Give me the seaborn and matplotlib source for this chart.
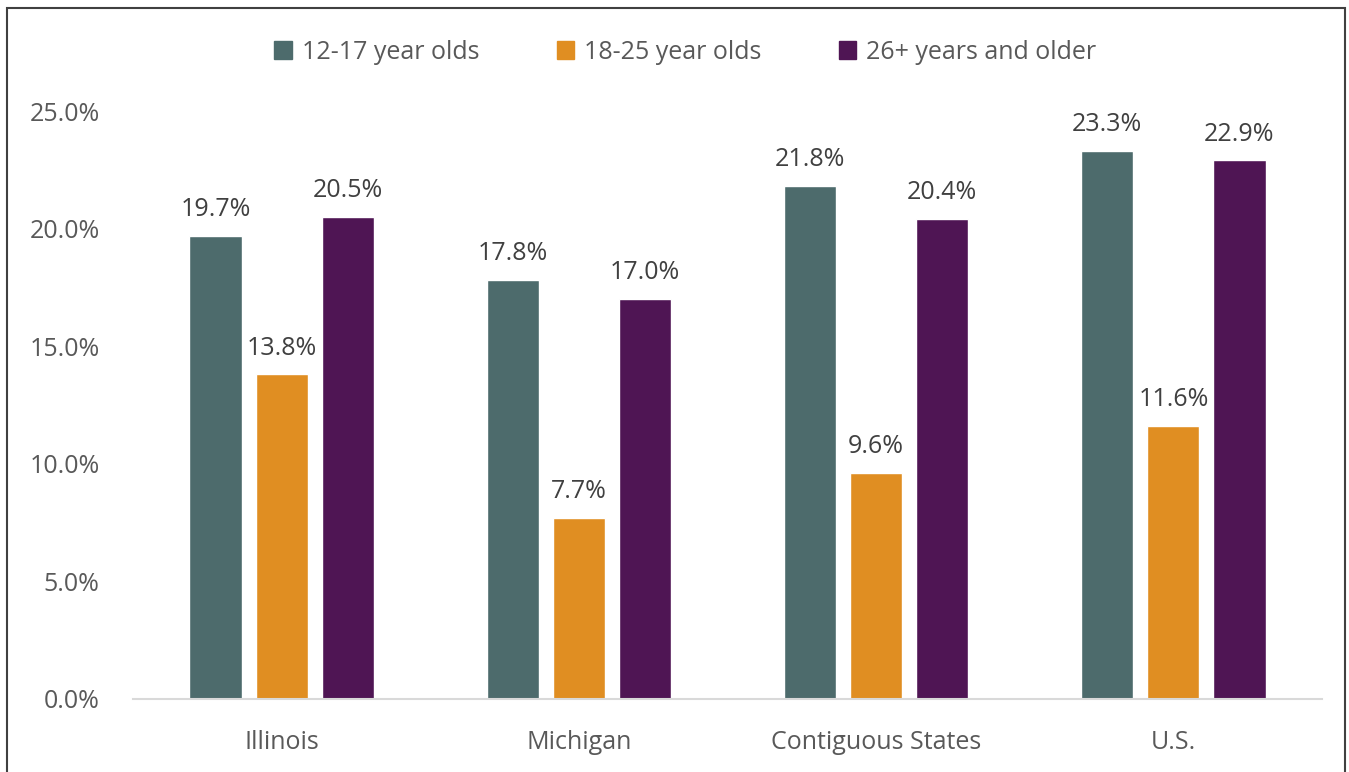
import pandas as pd
import matplotlib
matplotlib.use("Agg")
import matplotlib.pyplot as plt
import seaborn as sns
from matplotlib.ticker import PercentFormatter
from matplotlib.patches import Rectangle

# données du graphique
regions = ["Illinois", "Michigan", "Contiguous States", "U.S."]
groups = ["12-17 year olds", "18-25 year olds", "26+ years and older"]
ages_12_17 = [19.7, 17.8, 21.8, 23.3]
ages_18_25 = [13.8, 7.7, 9.6, 11.6]
ages_26_plus = [20.5, 17.0, 20.4, 22.9]
colors = ["#4D6B6C", "#E08E22", "#4F1554"]

rows = []
for g, vals in zip(groups, [ages_12_17, ages_18_25, ages_26_plus]):
    for r, v in zip(regions, vals):
        rows.append({"region": r, "group": g, "value": v})
df = pd.DataFrame(rows)

sns.set_style("white")
plt.rcParams["font.family"] = ["Open Sans", "DejaVu Sans"]

fig = plt.figure(figsize=(13.49, 7.72), dpi=100)
ax = fig.add_axes([0.0986, 0.0946, 0.8814, 0.7616])

sns.barplot(data=df, x="region", y="value", hue="group", palette=colors,
            width=0.667, gap=0.21, ax=ax, saturation=1, legend=False)

# étiquettes de valeurs
for cont in ax.containers:
    ax.bar_label(cont, fmt="%.1f%%", padding=10, fontsize=18, color="#404040")

ax.set_xlim(-0.5, 3.5)
ax.set_ylim(0, 25)
ax.set_yticks([0, 5, 10, 15, 20, 25])
ax.yaxis.set_major_formatter(PercentFormatter(decimals=1))
ax.set_xlabel("")
ax.set_ylabel("")
ax.tick_params(axis="both", labelsize=18, colors="#595959", length=0)
ax.tick_params(axis="x", pad=22)
ax.tick_params(axis="y", pad=24)
for s in ["top", "right", "left"]:
    ax.spines[s].set_visible(False)
ax.spines["bottom"].set_color("#D9D9D9")
ax.spines["bottom"].set_linewidth(1.5)

handles = [Rectangle((0, 0), 1, 1, color=c) for c in colors]
fig.legend(handles, groups, loc="center", bbox_to_anchor=(0.508, 0.932), ncol=3,
           frameon=False, fontsize=18, labelcolor="#595959", handlelength=0.7,
           handleheight=0.7, handletextpad=0.4, columnspacing=3.1)

# cadre autour de la figure
fig.patches.append(Rectangle((0.005, -0.01), 0.992, 1.0, transform=fig.transFigure,
                             fill=False, edgecolor="#404040", linewidth=1.5))

fig.savefig("out.png", dpi=100)
